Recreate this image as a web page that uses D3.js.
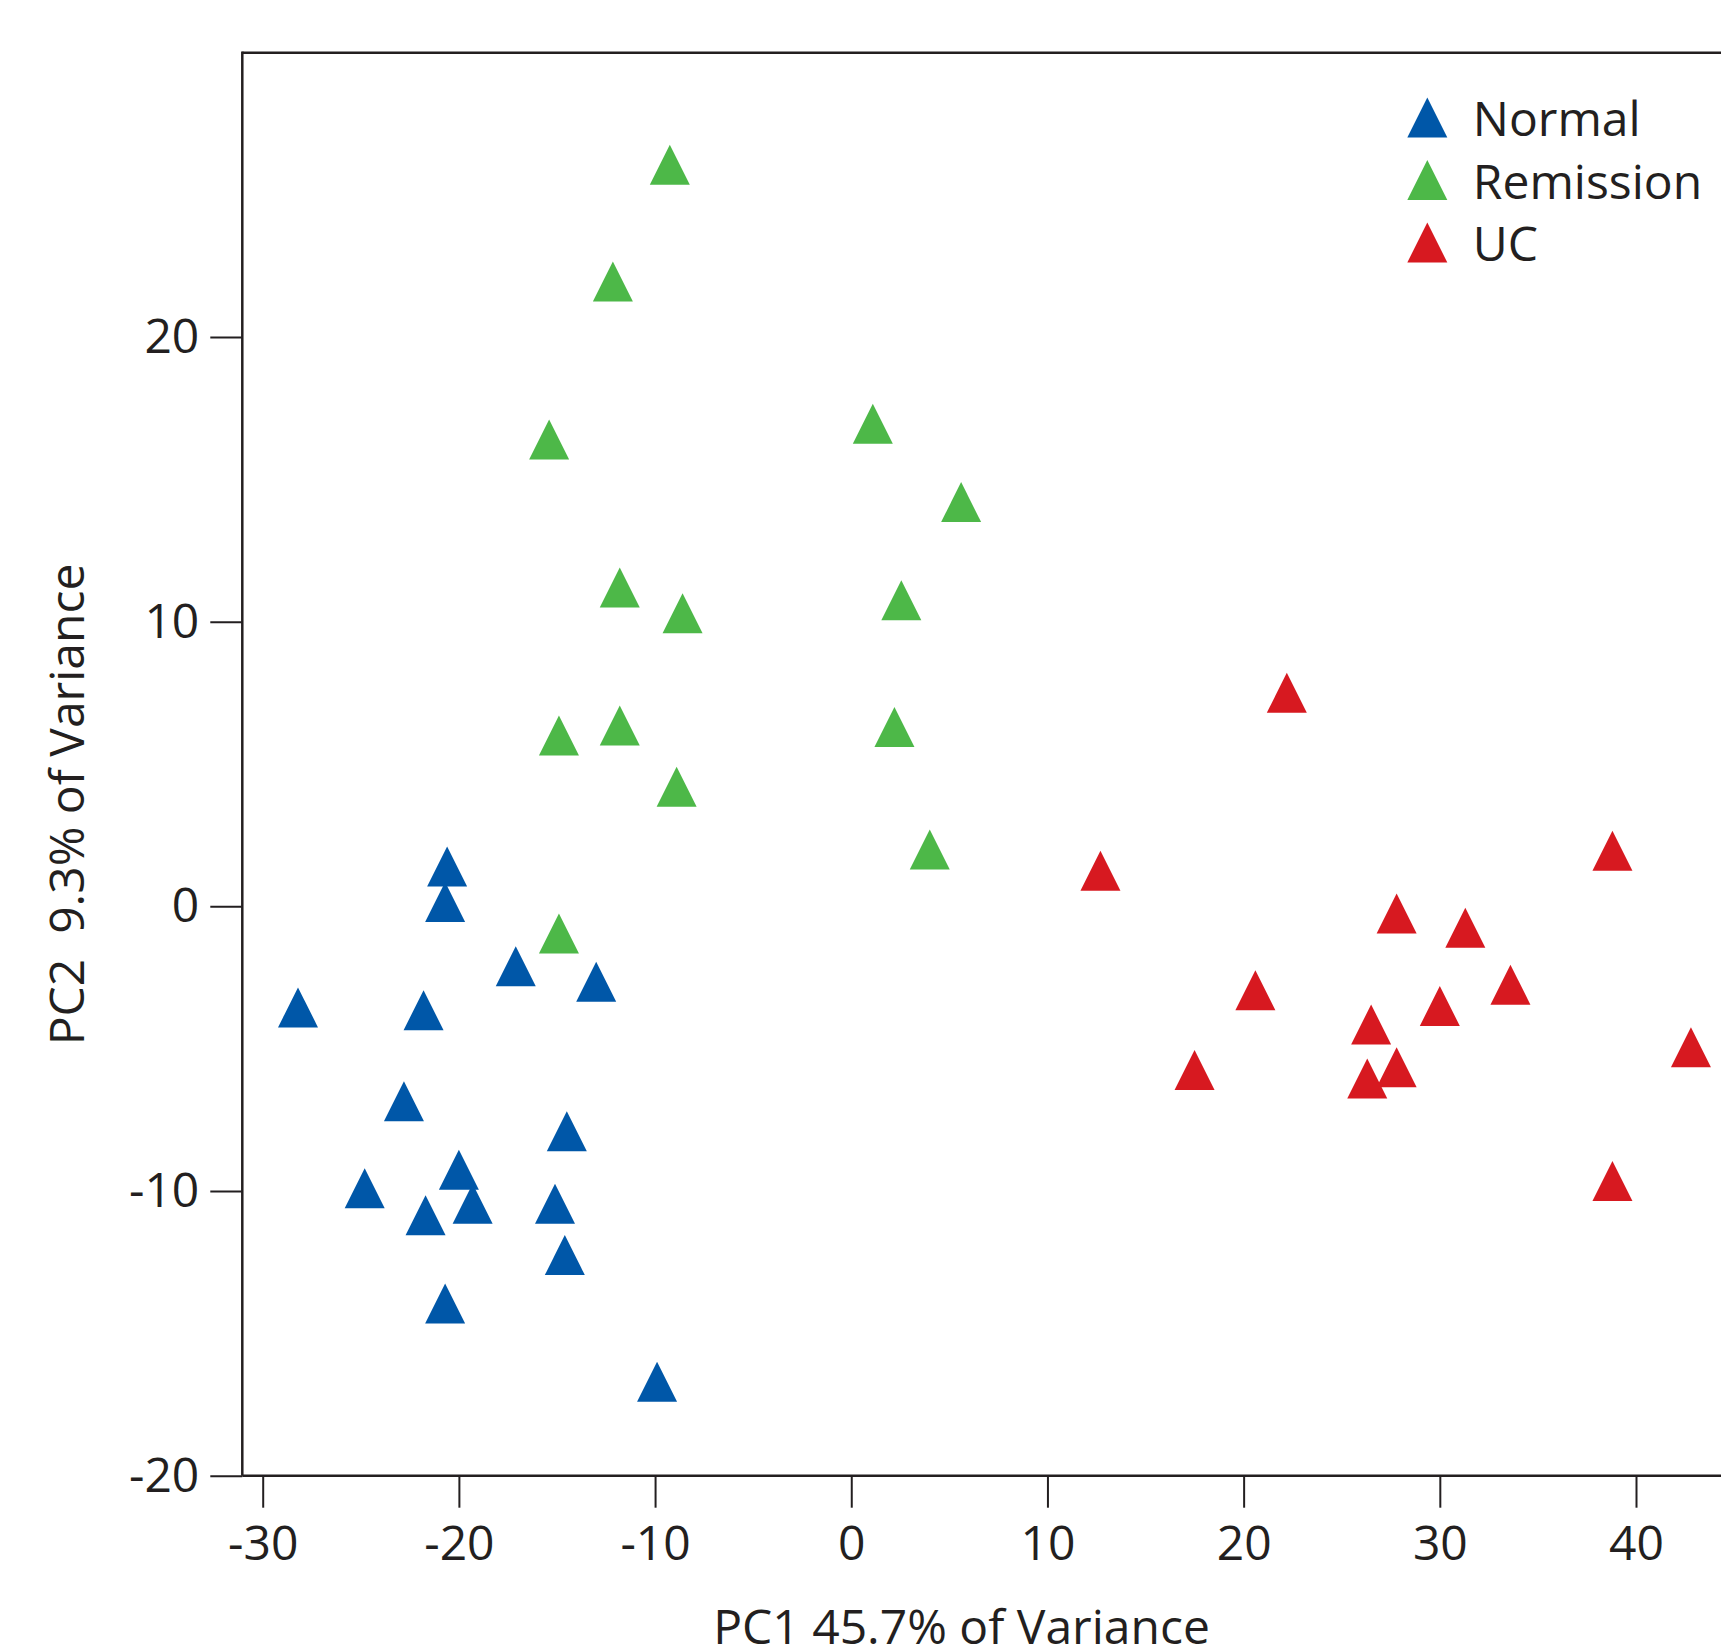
<!DOCTYPE html>
<html>
<head>
<meta charset="utf-8">
<script src="https://cdn.jsdelivr.net/npm/d3@7"></script>
<style>
  html, body { margin: 0; padding: 0; background: #fff; }
  svg { display: block; }
  text { font-family: "Open Sans", "Noto Sans", sans-serif; fill: #231f20; }
</style>
</head>
<body>
<svg id="chart" width="1721" height="1649"></svg>
<script>
// ---- data ----
const groups = ["Normal", "Remission", "UC"];
const groupColors = ["#0057a8", "#4db848", "#d71920"];

const normalPC1 = [-20.6, -20.7, -17.1, -13.0, -28.2, -21.8, -22.8, -14.5, -20.0, -24.8, -19.3, -21.7, -15.1, -14.6, -20.7, -9.9];
const normalPC2 = [1.4, 0.15, -2.1, -2.65, -3.55, -3.65, -6.85, -7.9, -9.25, -9.9, -10.45, -10.85, -10.45, -12.25, -13.95, -16.7];

const remissionPC1 = [-9.25, -12.15, -15.4, 1.1, 5.6, -11.8, -8.6, 2.55, -14.9, -11.8, 2.2, -8.9, 4.0, -14.9];
const remissionPC2 = [26.05, 21.95, 16.4, 16.95, 14.2, 11.2, 10.3, 10.75, 6.0, 6.35, 6.3, 4.2, 2.0, -0.95];

const ucPC1 = [22.2, 12.7, 38.8, 27.8, 31.3, 20.6, 33.6, 30.0, 26.5, 42.8, 17.5, 27.8, 26.3, 38.8];
const ucPC2 = [7.5, 1.25, 1.95, -0.25, -0.75, -2.95, -2.75, -3.5, -4.15, -4.95, -5.75, -5.65, -6.05, -9.65];

const xTicks = [-30, -20, -10, 0, 10, 20, 30, 40];
const yTicks = [-20, -10, 0, 10, 20];
const xTitle = "PC1 45.7% of Variance";
const yTitle = "PC2  9.3% of Variance";

// ---- layout ----
const svg = d3.select("#chart");
const frame = { left: 242.3, top: 52.7, right: 1721, bottom: 1475.7 };

const x = d3.scaleLinear().domain([-30, 40]).range([262.7, 1636]);
const y = d3.scaleLinear().domain([-20, 20]).range([1475.7, 337]);

const ink = "#231f20";

// frame lines (top, left, bottom)
svg.append("line").attr("x1", frame.left).attr("x2", frame.right)
  .attr("y1", frame.top).attr("y2", frame.top)
  .attr("stroke", ink).attr("stroke-width", 2.5);
svg.append("line").attr("x1", frame.left).attr("x2", frame.left)
  .attr("y1", frame.top - 1.25).attr("y2", frame.bottom)
  .attr("stroke", ink).attr("stroke-width", 2.5);
svg.append("line").attr("x1", frame.left).attr("x2", frame.right)
  .attr("y1", frame.bottom).attr("y2", frame.bottom)
  .attr("stroke", ink).attr("stroke-width", 2.5);

// axes
const xAxis = svg.append("g").attr("transform", `translate(0,${frame.bottom})`)
  .call(d3.axisBottom(x).tickValues(xTicks).tickSize(32).tickPadding(18)
    .tickFormat(d => String(d)));
const yAxis = svg.append("g").attr("transform", `translate(${frame.left},0)`)
  .call(d3.axisLeft(y).tickValues(yTicks).tickSize(32).tickPadding(11)
    .tickFormat(d => String(d)));
[xAxis, yAxis].forEach(g => {
  g.select(".domain").remove();
  g.selectAll(".tick line").attr("stroke", ink).attr("stroke-width", 2);
  g.selectAll(".tick text").attr("font-size", 48).attr("fill", ink)
    .attr("font-family", '"Open Sans", "Noto Sans", sans-serif');
});

// axis titles
svg.append("text").attr("x", 961.5).attr("y", 1644)
  .attr("text-anchor", "middle").attr("font-size", 48).text(xTitle);
svg.append("text")
  .attr("transform", "translate(84,804.5) rotate(-90)")
  .attr("text-anchor", "middle").attr("font-size", 48)
  .style("white-space", "pre").text(yTitle);

// triangle marker (40 wide, 40 tall), centred on its bounding box
const tri = "M0,-20L20,20L-20,20Z";

const series = [
  { name: groups[0], color: groupColors[0], xs: normalPC1, ys: normalPC2 },
  { name: groups[1], color: groupColors[1], xs: remissionPC1, ys: remissionPC2 },
  { name: groups[2], color: groupColors[2], xs: ucPC1, ys: ucPC2 }
];

const plot = svg.append("g");
series.forEach(s => {
  plot.append("g").selectAll("path")
    .data(s.xs.map((v, i) => [v, s.ys[i]]))
    .join("path")
    .attr("d", tri)
    .attr("transform", d => `translate(${x(d[0])},${y(d[1])})`)
    .attr("fill", s.color);
});

// legend
const legend = svg.append("g").attr("transform", "translate(1427.3,117.5)");
series.forEach((s, i) => {
  const row = legend.append("g").attr("transform", `translate(0,${i * 62.5})`);
  row.append("path").attr("d", tri).attr("fill", s.color);
  row.append("text").attr("x", 45.5).attr("y", 18.5)
    .attr("font-size", 48).text(s.name);
});
</script>
</body>
</html>
